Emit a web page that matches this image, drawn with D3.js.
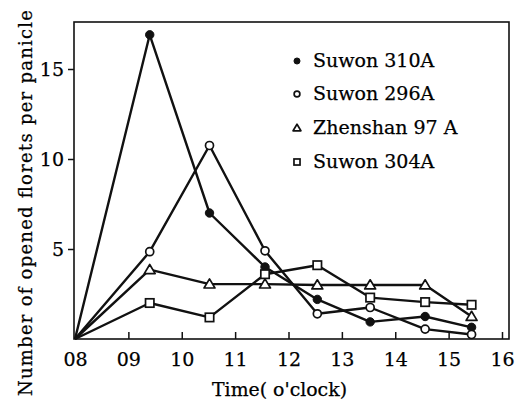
<!DOCTYPE html>
<html>
<head>
<meta charset="utf-8">
<script src="https://cdn.jsdelivr.net/npm/d3@7/dist/d3.min.js"></script>
<style>
  html, body { margin: 0; padding: 0; background: #fff; }
  svg { display: block; }
  text { font-family: "DejaVu Serif", "Liberation Serif", serif; fill: #000; stroke: #000; stroke-width: 0.25px; }
</style>
</head>
<body>
<svg id="chart" width="517" height="402"></svg>
<script>
// ---- data ----
const times = [8, 9.4, 10.52, 11.56, 12.54, 13.53, 14.56, 15.43];
const suwon310A = [0, 16.9, 7.0, 4.0, 2.2, 0.95, 1.25, 0.65];
const suwon296A = [0, 4.85, 10.75, 4.9, 1.4, 1.75, 0.55, 0.25];
const zhenshan97A = [0, 3.85, 3.05, 3.05, 3.0, 3.0, 3.0, 1.25];
const suwon304A = [0, 2.0, 1.2, 3.6, 4.1, 2.3, 2.05, 1.9];
const seriesNames = ["Suwon 310A", "Suwon 296A", "Zhenshan 97 A", "Suwon 304A"];
const markerTypes = ["filledCircle", "openCircle", "triangle", "square"];
const xTickValues = [8, 9, 10, 11, 12, 13, 14, 15, 16];
const xTickLabels = ["08", "09", "10", "11", "12", "13", "14", "15", "16"];
const yTickValues = [5, 10, 15];

const seriesValues = [suwon310A, suwon296A, zhenshan97A, suwon304A];

// ---- layout ----
const svg = d3.select("#chart");
const frameL = 74, frameR = 509, frameT = 22, frameB = 339;
const x = d3.scaleLinear().domain([8, 16]).range([75, 502]);
const y = d3.scaleLinear().domain([0, 15]).range([339, 69]);

// frame
svg.append("rect")
  .attr("x", frameL).attr("y", frameT)
  .attr("width", frameR - frameL).attr("height", frameB - frameT)
  .attr("fill", "none").attr("stroke", "#111").attr("stroke-width", 1.6);

// x axis (ticks inward)
const xAxis = d3.axisBottom(x)
  .tickValues(xTickValues)
  .tickSize(-7)
  .tickPadding(14)
  .tickFormat((d, i) => xTickLabels[i]);
const gx = svg.append("g").attr("transform", `translate(0,${frameB})`).call(xAxis);
gx.select(".domain").remove();
gx.selectAll(".tick line").attr("stroke", "#111").attr("stroke-width", 1.5)
  .filter(d => d === 8).remove();
gx.selectAll(".tick text").attr("font-size", 19).attr("font-family", "DejaVu Serif").attr("fill", "#000");

// y axis (ticks outward)
const yAxis = d3.axisLeft(y)
  .tickValues(yTickValues)
  .tickSize(6)
  .tickPadding(4)
  .tickFormat(d3.format("d"));
const gy = svg.append("g").attr("transform", `translate(${frameL},0)`).call(yAxis);
gy.select(".domain").remove();
gy.selectAll(".tick line").attr("stroke", "#111").attr("stroke-width", 1.5);
gy.selectAll(".tick text").attr("font-size", 19).attr("font-family", "DejaVu Serif").attr("fill", "#000");

// axis titles
svg.append("text")
  .attr("x", 212).attr("y", 396)
  .attr("font-size", 18)
  .attr("textLength", 135).attr("lengthAdjust", "spacingAndGlyphs")
  .text("Time( o'clock)");

svg.append("text")
  .attr("transform", "translate(32,396) rotate(-90)")
  .attr("x", 0).attr("y", 0)
  .attr("font-size", 18)
  .attr("textLength", 386).attr("lengthAdjust", "spacing")
  .text("Number of opened florets per panicle");

// lines
const line = d3.line().x(d => x(d[0])).y(d => y(d[1]));
const plot = svg.append("g");
seriesValues.forEach((vals) => {
  const pts = vals.map((v, i) => [times[i], v]);
  plot.append("path")
    .attr("d", line(pts))
    .attr("fill", "none")
    .attr("stroke", "#111")
    .attr("stroke-width", 2.4)
    .attr("stroke-linejoin", "round");
});

function drawMarker(g, type, cx, cy, s) {
  if (type === "filledCircle") {
    g.append("circle").attr("cx", cx).attr("cy", cy).attr("r", 4.2 * s)
      .attr("fill", "#111").attr("stroke", "#111").attr("stroke-width", 1);
  } else if (type === "openCircle") {
    g.append("circle").attr("cx", cx).attr("cy", cy).attr("r", 4 * s)
      .attr("fill", "#fff").attr("stroke", "#111").attr("stroke-width", 1.7);
  } else if (type === "triangle") {
    const h = 5.2 * s;
    g.append("path")
      .attr("d", `M${cx},${cy - h} L${cx + h * 1.05},${cy + h * 0.75} L${cx - h * 1.05},${cy + h * 0.75} Z`)
      .attr("fill", "#fff").attr("stroke", "#111").attr("stroke-width", 1.7)
      .attr("stroke-linejoin", "round");
  } else if (type === "square") {
    const h = 4.2 * s;
    g.append("rect").attr("x", cx - h).attr("y", cy - h)
      .attr("width", 2 * h).attr("height", 2 * h)
      .attr("fill", "#fff").attr("stroke", "#111").attr("stroke-width", 1.7);
  }
}

// markers (skip the common origin point)
seriesValues.forEach((vals, si) => {
  vals.forEach((v, i) => {
    if (i === 0) return;
    drawMarker(plot, markerTypes[si], x(times[i]), y(v), 1);
  });
});

// legend
const legend = svg.append("g");
const legendY = [61, 94, 128, 162];
seriesNames.forEach((name, i) => {
  drawMarker(legend, markerTypes[i], 297, legendY[i], 0.72);
  legend.append("text")
    .attr("x", 313).attr("y", legendY[i] + 6)
    .attr("font-size", 19)
    .text(name);
});
</script>
</body>
</html>
